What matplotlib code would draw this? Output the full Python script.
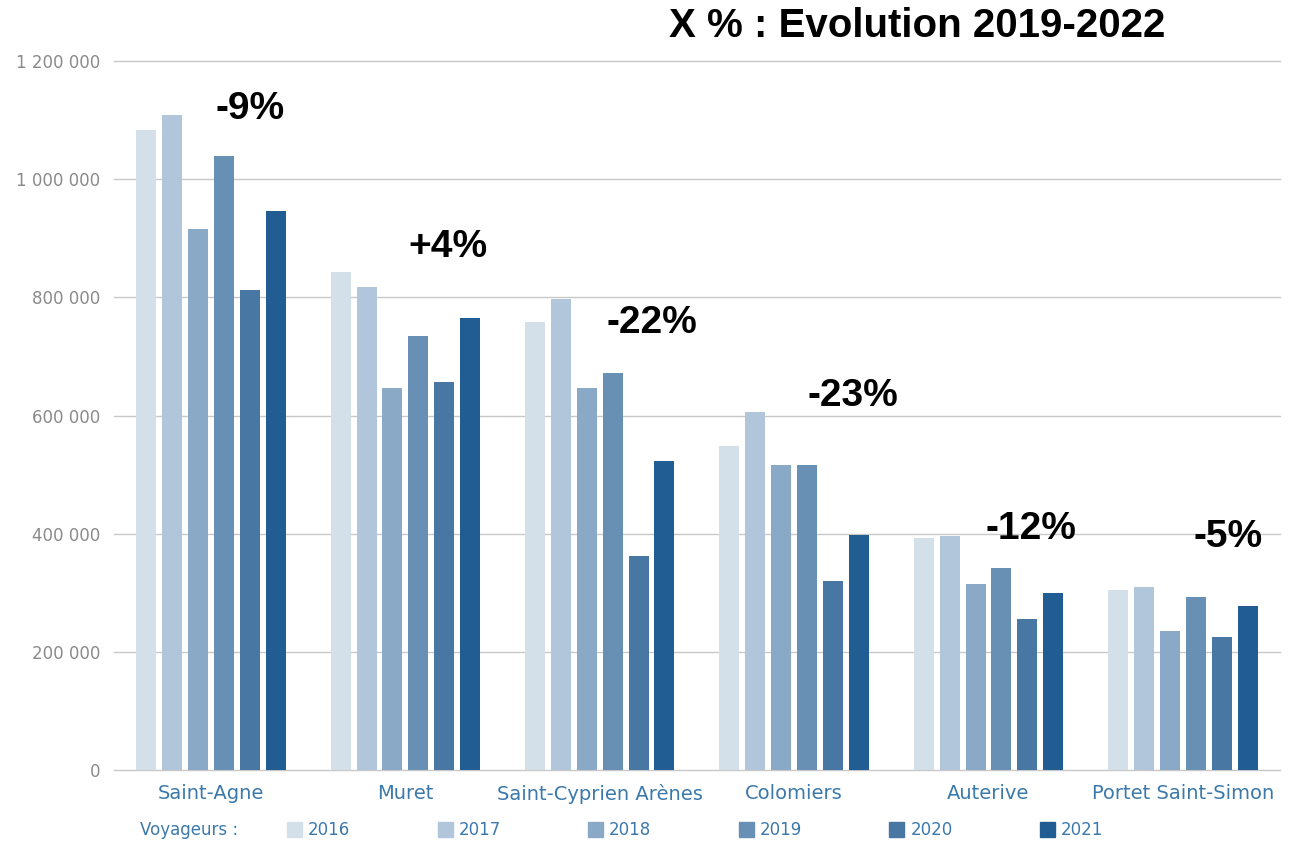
import numpy as np
import matplotlib
matplotlib.use("Agg")
import matplotlib.pyplot as plt
from matplotlib.patches import Rectangle

# données
gares = ["Saint-Agne", "Muret", "Saint-Cyprien Arènes", "Colomiers",
         "Auterive", "Portet Saint-Simon"]
annees = ["2016", "2017", "2018", "2019", "2020", "2021"]

v2016 = [1084000, 843000, 759000, 549000, 393000, 305000]
v2017 = [1108000, 818000, 798000, 606000, 396000, 310000]
v2018 = [916000, 647000, 647000, 516000, 315000, 235000]
v2019 = [1040000, 735000, 672000, 516000, 342000, 293000]
v2020 = [813000, 657000, 362000, 320000, 256000, 225000]
v2021 = [947000, 765000, 523000, 398000, 300000, 278000]

evolution = ["-9%", "+4%", "-22%", "-23%", "-12%", "-5%"]

# position des étiquettes d'évolution (décalage x, hauteur y)
evo_dx = [0.20, 0.22, 0.27, 0.30, 0.22, 0.23]
evo_y = [1118000, 886000, 757000, 633000, 408000, 395000]

couleurs = ["#d3dfe9", "#b1c6da", "#89a9c7", "#6890b5", "#4877a3", "#215d92"]
bleu_txt = "#3b79ab"

series = [v2016, v2017, v2018, v2019, v2020, v2021]

fig = plt.figure(figsize=(12.93, 8.42), dpi=100)
ax = fig.add_axes([0.088, 0.0855, 0.902, 0.842])

x = np.arange(len(gares))
pas = 0.133
largeur = 0.103
for i, vals in enumerate(series):
    ax.bar(x + (i - 2.5) * pas, vals, width=largeur, color=couleurs[i], zorder=3)

ax.set_xlim(-0.5, 5.5)
ax.set_ylim(0, 1200000)
ax.set_yticks(np.arange(0, 1200001, 200000))
ax.set_yticklabels(["0" if v == 0 else f"{v:,}".replace(",", " ") for v in range(0, 1200001, 200000)])
ax.grid(axis="y", color="#c8c8c8", linewidth=1.0, zorder=0)
for gl in ax.get_ygridlines():
    gl.set_clip_on(False)
ax.set_axisbelow(True)
for s in ax.spines.values():
    s.set_visible(False)
ax.tick_params(axis="y", length=0, pad=10, labelsize=12, labelcolor="#8a8a8a")
ax.set_xticks(x)
ax.set_xticklabels(gares, fontsize=14, color=bleu_txt)
ax.tick_params(axis="x", length=0, pad=10)

# étiquettes d'évolution 2019-2022
for i, t in enumerate(evolution):
    ax.text(x[i] + evo_dx[i], evo_y[i], t, ha="center", va="center",
            fontsize=28, fontweight="bold", family="Liberation Sans",
            color="black", clip_on=False)

fig.text(0.709, 0.969, "X % : Evolution 2019-2022", ha="center", va="center",
         fontsize=29, fontweight="bold", family="Liberation Sans", color="black")

# légende
fig.text(140 / 1293, 1 - 830 / 842, "Voyageurs :", ha="left", va="center",
         fontsize=12, color=bleu_txt)
for i, a in enumerate(annees):
    x0 = (287 + i * 150.6) / 1293
    fig.add_artist(Rectangle((x0, 1 - 837 / 842), 15 / 1293, 15 / 842,
                             transform=fig.transFigure, color=couleurs[i]))
    fig.text(x0 + 21 / 1293, 1 - 830 / 842, a, ha="left", va="center",
             fontsize=12, color=bleu_txt)

fig.savefig("out.png", dpi=100)
